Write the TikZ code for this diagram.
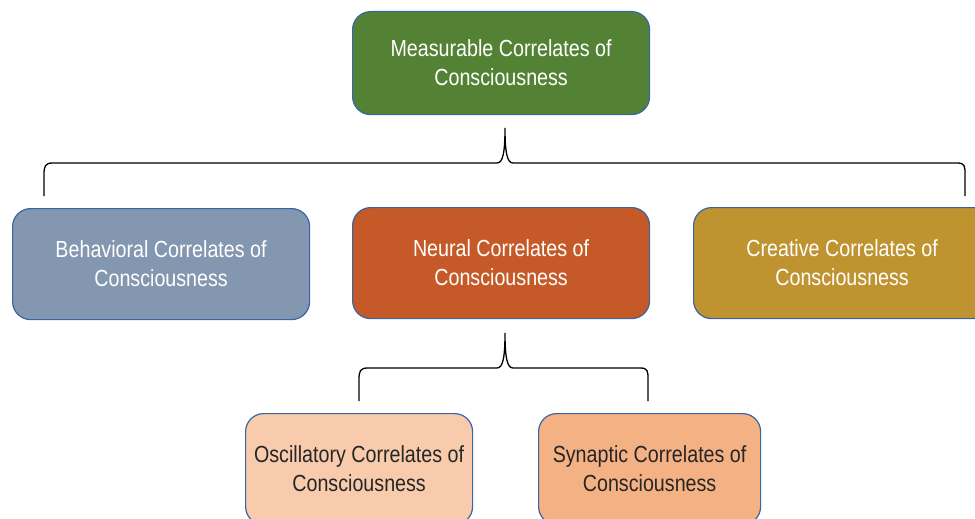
\documentclass[tikz,border=0pt]{standalone}
\usepackage{fontspec}
\newfontfamily\boxfont[FakeStretch=0.845]{Liberation Sans}
\definecolor{cgreen}{HTML}{548235}
\definecolor{cblue}{HTML}{8497B0}
\definecolor{corange}{HTML}{C55A28}
\definecolor{cgold}{HTML}{BF9430}
\definecolor{clight}{HTML}{F8CBAD}
\definecolor{cmid}{HTML}{F4B183}
\definecolor{cedge}{HTML}{3B64A3}
\definecolor{cdark}{HTML}{262626}
\tikzset{
  x=1pt, y=-1pt,
  cbox/.style={draw=cedge, line width=1.2pt, rounded corners=18pt, anchor=north west,
    inner sep=0pt, align=center, font=\boxfont\fontsize{23.3}{29}\selectfont},
  lightbox/.style={cbox, text=white},
  darkbox/.style={cbox, text=cdark},
  brace/.style={draw=black, line width=1.3pt}
}
\begin{document}
\begin{tikzpicture}
\useasboundingbox (0,0) rectangle (975,519);
\clip (0,0) rectangle (975,519);
\node[lightbox, fill=cgreen, minimum width=297pt, minimum height=103pt] (top) at (352,11) {Measurable Correlates of\\Consciousness};
\node[lightbox, fill=cblue, minimum width=297pt, minimum height=111pt] (beh) at (12,208) {Behavioral Correlates of\\Consciousness};
\node[lightbox, fill=corange, minimum width=297pt, minimum height=111pt] (neu) at (352,207) {Neural Correlates of\\Consciousness};
\node[lightbox, fill=cgold, minimum width=297pt, minimum height=111pt] (cre) at (693,207) {Creative Correlates of\\Consciousness};
\node[darkbox, fill=clight, minimum width=227pt, minimum height=111pt] (osc) at (245,413) {Oscillatory Correlates of\\Consciousness};
\node[darkbox, fill=cmid, minimum width=222pt, minimum height=111pt] (syn) at (538,413) {Synaptic Correlates of\\Consciousness};
% top brace
\coordinate (t1) at (44,196);
\coordinate (t2) at (505,128);
\coordinate (t3) at (965,196);
\draw[brace] (t1) -- (44,175) .. controls (44,166) and (45,163) .. (53,163) -- (497,163)
  .. controls (503,163) and (505,152) .. (t2)
  .. controls (505,152) and (507,163) .. (513,163) -- (957,163)
  .. controls (965,163) and (965,166) .. (965,175) -- (t3);
% bottom brace
\coordinate (b1) at (359,401);
\coordinate (b2) at (505,333);
\coordinate (b3) at (648,401);
\draw[brace] (b1) -- (359,380) .. controls (359,371) and (360,368) .. (368,368) -- (497,368)
  .. controls (503,368) and (505,357) .. (b2)
  .. controls (505,357) and (507,368) .. (513,368) -- (640,368)
  .. controls (648,368) and (648,371) .. (648,380) -- (b3);
\end{tikzpicture}
\end{document}
